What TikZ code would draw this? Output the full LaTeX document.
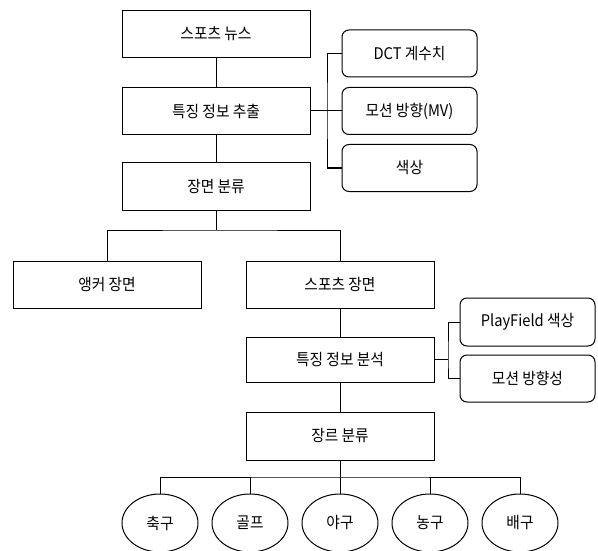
\documentclass[tikz,border=0pt]{standalone}
\usepackage{fontspec}
\setmainfont[FakeStretch=0.92]{Noto Sans CJK KR}
\usetikzlibrary{shapes.geometric}
\begin{document}
\begin{tikzpicture}[x=1pt,y=-1pt,
  every node/.style={font=\fontsize{16}{18}\selectfont, inner sep=0pt},
  box/.style={draw, line width=1pt, minimum width=188pt, minimum height=47pt},
  rbox/.style={draw, line width=1pt, rounded corners=7pt, minimum width=135pt, minimum height=47pt},
  oval/.style={draw, line width=1pt, ellipse, minimum width=76pt, minimum height=58pt},
  conn/.style={line width=1pt}]
\useasboundingbox (0,0) rectangle (598,551);
\node[box] (news) at (216,34) {스포츠 뉴스};
\node[box] (ext) at (216,111) {특징 정보 추출};
\node[box] (cls) at (216,186.5) {장면 분류};
\node[rbox] (dct) at (409.5,53.5) {DCT 계수치};
\node[rbox] (mv) at (409.5,111) {모션 방향(MV)};
\node[rbox] (col) at (409.5,168) {색상};
\node[box] (anc) at (107,284.5) {앵커 장면};
\node[box] (spo) at (340,284.5) {스포츠 장면};
\node[box, minimum height=45pt] (ana) at (340,359.5) {특징 정보 분석};
\node[box, minimum height=48pt] (gen) at (340,436) {장르 분류};
\node[rbox, minimum height=48pt] (pf) at (527.5,322) {PlayField 색상};
\node[rbox] (mo) at (527.5,378.5) {모션 방향성};
\node[oval] (e1) at (160,523) {축구};
\node[oval] (e2) at (250,523) {골프};
\node[oval] (e3) at (340,523) {야구};
\node[oval] (e4) at (430,523) {농구};
\node[oval] (e5) at (520,523) {배구};
\coordinate (b1) at (327,111);
\coordinate (b2) at (216,230);
\coordinate (b3) at (448,359.5);
\coordinate (b4) at (340,477);
\draw[conn] (news.south) -- (ext.north);
\draw[conn] (ext.south) -- (cls.north);
\draw[conn] (ext.east) -- (mv.west);
\draw[conn] (dct.west) -| (b1) |- (col.west);
\draw[conn] (cls.south) -- (b2);
\draw[conn] (anc.north) |- (b2) -| (spo.north);
\draw[conn] (spo.south) -- (ana.north);
\draw[conn] (ana.east) -- (b3);
\draw[conn] (pf.west) -| (b3) |- (mo.west);
\draw[conn] (ana.south) -- (gen.north);
\draw[conn] (gen.south) -- (e3.north);
\draw[conn] (e1.north) |- (b4) -| (e5.north);
\draw[conn] (e2.north) -- (e2.north |- b4);
\draw[conn] (e4.north) -- (e4.north |- b4);
\end{tikzpicture}
\end{document}
